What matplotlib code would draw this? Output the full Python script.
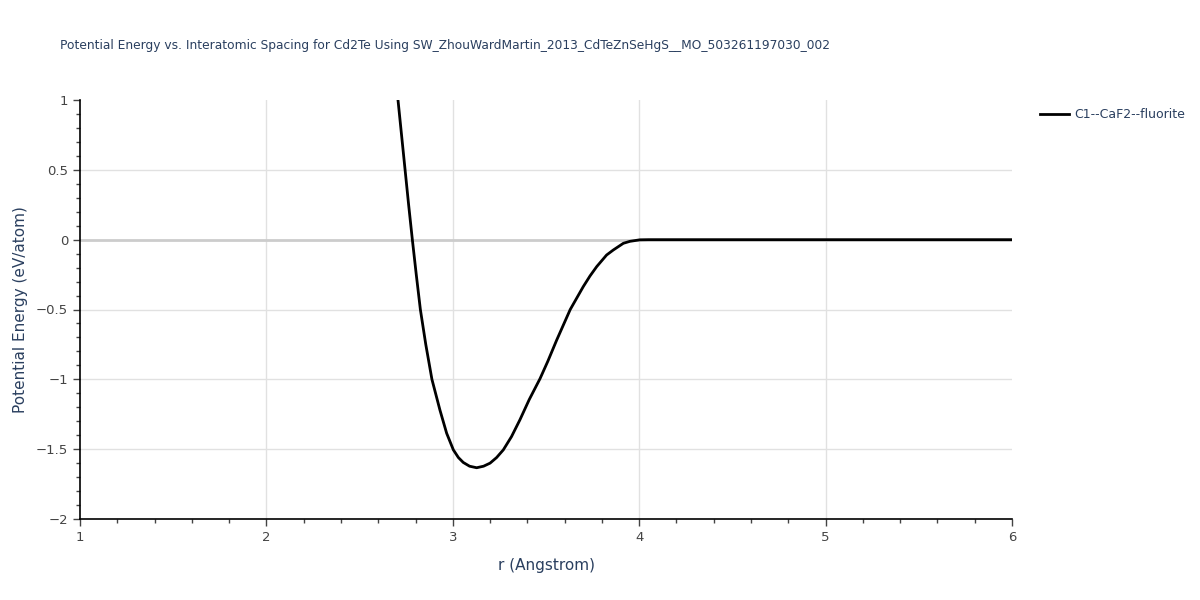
import numpy as np
import matplotlib
matplotlib.use("Agg")
import matplotlib.pyplot as plt
from matplotlib.ticker import MultipleLocator, FuncFormatter

# values
r_vals = [2.706, 2.725, 2.744, 2.763, 2.783, 2.804, 2.826, 2.855, 2.888, 2.931,
          2.967, 3.003, 3.03, 3.056, 3.09, 3.128, 3.165, 3.2, 3.235, 3.271,
          3.315, 3.36, 3.41, 3.468, 3.51, 3.557, 3.63, 3.70, 3.736, 3.772,
          3.825, 3.861, 3.915, 3.95, 4.004, 4.05, 4.5, 5.0, 5.5, 6.0]
e_vals = [1.0, 0.75, 0.5, 0.25, 0.0, -0.25, -0.5, -0.75, -1.0, -1.22,
          -1.386, -1.505, -1.56, -1.595, -1.622, -1.633, -1.622, -1.60, -1.56, -1.505,
          -1.41, -1.29, -1.145, -0.995, -0.87, -0.72, -0.5, -0.336, -0.26, -0.193,
          -0.11, -0.074, -0.026, -0.012, -0.001, 0.0, 0.0, 0.0, 0.0, 0.0]
series_name = "C1--CaF2--fluorite"
title = "Potential Energy vs. Interatomic Spacing for Cd2Te Using SW_ZhouWardMartin_2013_CdTeZnSeHgS__MO_503261197030_002"

text_col = "#2a3f5f"
tick_col = "#444444"

fig = plt.figure(figsize=(12, 6), dpi=100)
ax = fig.add_axes([80/1200, 81/600, 932/1200, 419/600])

ax.plot(r_vals, e_vals, color="black", lw=2, zorder=3, solid_joinstyle="round")

ax.set_xlim(1, 6)
ax.set_ylim(-2, 1)
ax.xaxis.set_major_locator(MultipleLocator(1))
ax.xaxis.set_minor_locator(MultipleLocator(0.2))
ax.yaxis.set_major_locator(MultipleLocator(0.5))
ax.yaxis.set_minor_locator(MultipleLocator(0.1))
ax.yaxis.set_major_formatter(FuncFormatter(lambda v, p: "{:g}".format(v).replace("-", "\u2212")))

# grid only inside the plot, like plotly
for xv in [2, 3, 4, 5]:
    ax.axvline(xv, color="#e1e1e1", lw=1, zorder=0)
for yv in [-1.5, -1, -0.5, 0.5]:
    ax.axhline(yv, color="#e1e1e1", lw=1, zorder=0)
ax.axhline(0, color="#cccccc", lw=2, zorder=1)

for s in ["top", "right"]:
    ax.spines[s].set_visible(False)
for s in ["left", "bottom"]:
    ax.spines[s].set_color("black")
    ax.spines[s].set_linewidth(1.2)

ax.tick_params(which="major", length=5, width=1, color="#444444", labelsize=9.5, labelcolor=tick_col)
ax.tick_params(which="minor", length=3, width=1, color="#444444")

ax.set_xlabel("r (Angstrom)", fontsize=11, color=text_col, labelpad=10)
ax.set_ylabel("Potential Energy (eV/atom)", fontsize=11, color=text_col, labelpad=6)

fig.text(60/1200, 1 - 45/600, title, fontsize=8.8, color=text_col, va="center", ha="left")

leg = ax.legend([series_name], loc="upper left", bbox_to_anchor=(1.025, 0.992),
                frameon=False, fontsize=9, handlelength=2.3, handletextpad=0.45,
                borderaxespad=0)
for t in leg.get_texts():
    t.set_color(text_col)

fig.savefig("out.png", dpi=100, facecolor="white")
